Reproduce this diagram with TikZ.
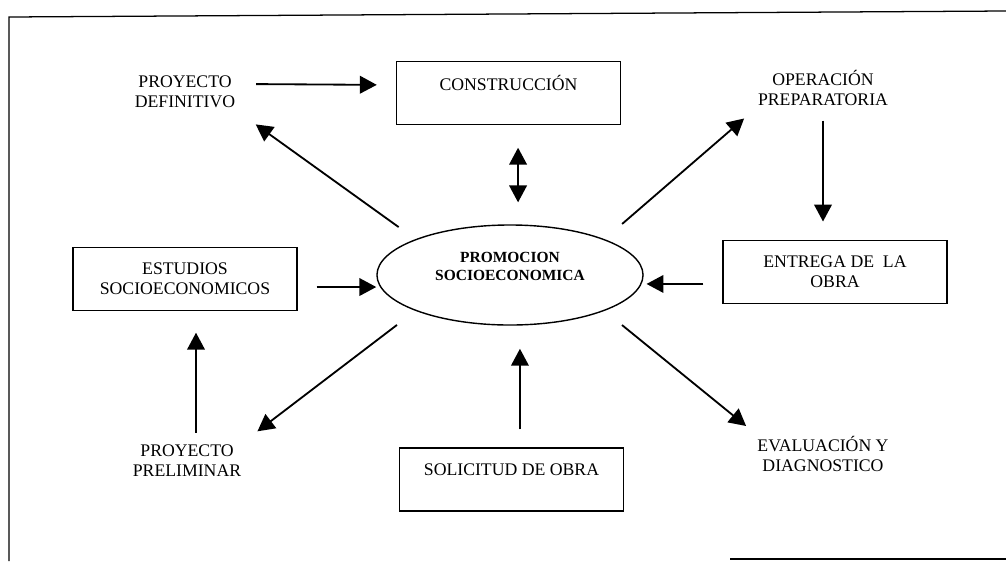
\documentclass[tikz,border=0pt]{standalone}
\usepackage{fontspec}
\setmainfont{Liberation Serif}
\usetikzlibrary{arrows.meta,shapes.geometric}
\begin{document}
\begin{tikzpicture}[x=0.025cm,y=-0.025cm,font=\fontsize{12.6}{14.2}\selectfont,>={Triangle[length=12pt,width=12.5pt]}]
    \tikzstyle{box}=[rectangle,draw,line width=1pt,minimum width=5.6cm,minimum height=1.575cm,align=center,inner sep=4pt]
    \tikzstyle{stage}=[align=center,inner sep=4pt]
    \tikzstyle{arr}=[->,line width=1.3pt]
    \useasboundingbox (0,0) rectangle (1006,561);
    \draw [line width=0.9pt] (1006,11) -- (9,17) -- (9,561);
    \draw [line width=0.9pt] (730,559) -- (1006,559);
    \node [stage] (def) at (185,92) {PROYECTO\\DEFINITIVO};
    \node [box] (constr) at (508.5,93) {CONSTRUCCIÓN\\\mbox{}};
    \node [stage] (oper) at (823,88) {OPERACIÓN\\PREPARATORIA};
    \node [box] (estud) at (185,279) {ESTUDIOS\\SOCIOECONOMICOS};
    \node [ellipse,draw,line width=1pt,minimum width=6.65cm,minimum height=2.5cm,align=center,font=\fontsize{11}{12.8}\selectfont\bfseries] (prom) at (510,275) {PROMOCION\\SOCIOECONOMICA\\\mbox{}};
    \node [box] (entrega) at (835,272) {ENTREGA DE\ \ LA\\OBRA};
    \node [stage] (prelim) at (187,461) {PROYECTO\\PRELIMINAR};
    \node [box] (solic) at (511.5,479.5) {SOLICITUD DE OBRA\\\mbox{}};
    \node [stage] (eval) at (823,454) {EVALUACIÓN Y\\DIAGNOSTICO};
    \draw [arr,shorten <=10.7pt,shorten >=13.5pt] ([yshift=5.7pt]def.east) -- ([yshift=5.7pt]constr.west);
    \draw [arr,shorten <=14.7pt,shorten >=12.8pt] (prom.north west) -- (def.south east);
    \draw [arr,<->,shorten <=16pt,shorten >=15.6pt] ([xshift=6.8pt]constr.south) -- ([xshift=6.8pt]constr.south |- prom.north);
    \draw [arr,shorten <=16.5pt,shorten >=7.5pt] (prom.north east) -- (oper.south west);
    \draw [arr,shorten <=6.4pt,shorten >=13pt] (oper.south) -- (oper.south |- entrega.north);
    \draw [arr,shorten <=13.5pt,shorten >=2pt] ([yshift=-8.5pt]entrega.west) -- ([yshift=-8.5pt]entrega.west -| prom.east);
    \draw [arr,shorten <=13.5pt] ([yshift=-5.7pt]estud.east) -- ([yshift=-5.7pt]estud.east -| prom.west);
    \draw [arr,shorten <=4.5pt,shorten >=15.3pt] ([xshift=6.4pt]prelim.north) -- ([xshift=6.4pt]prelim.north |- estud.south);
    \draw [arr,shorten <=16.5pt,shorten >=9.3pt] (prom.south west) -- (prelim.north east);
    \draw [arr,shorten <=12.8pt,shorten >=16.4pt] ([xshift=6pt]solic.north) -- ([xshift=6pt]solic.north |- prom.south);
    \draw [arr,shorten <=16pt,shorten >=5pt] (prom.south east) -- (eval.north west);
\end{tikzpicture}
\end{document}
